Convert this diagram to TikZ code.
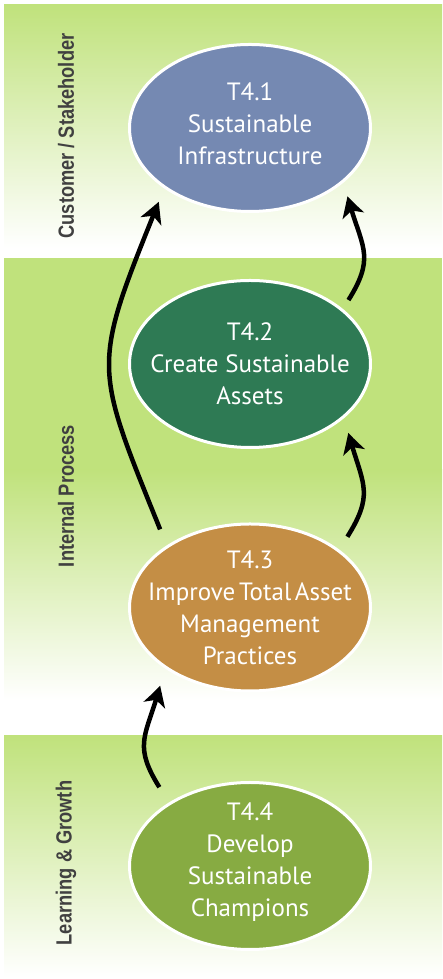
\documentclass[tikz,border=0pt]{standalone}
\usepackage{fontspec}
\usepackage{tikz}
\usetikzlibrary{shapes}
\usetikzlibrary{arrows.meta,bending}
\newfontfamily\goalfont{PT Sans}
\newfontfamily\sidefont[FakeStretch=0.83]{Liberation Sans}
\definecolor{bandgreen}{RGB}{192,226,124}
\definecolor{goalblue}{RGB}{117,137,178}
\definecolor{goaldark}{RGB}{46,122,84}
\definecolor{goalbrown}{RGB}{196,142,69}
\definecolor{goalgreen}{RGB}{135,171,66}
\definecolor{sidegray}{RGB}{64,64,64}
\newcommand{\fadeband}[2]{\shade[top color=bandgreen,bottom color=white] (4,#1) rectangle (442,#2);}

\begin{document}
\begin{tikzpicture}[x=1pt,y=1pt,
        goal/.style={ellipse,draw=white,line width=3pt,minimum width=241pt,minimum height=167pt,inner sep=0pt},
        goaltext/.style={text=white,align=center,font=\goalfont\fontsize{25}{32}\selectfont},
        side/.style={rotate=90,text=sidegray,font=\sidefont\bfseries\fontsize{22}{24}\selectfont},
        link/.style={line width=4.5pt,-{Stealth[length=21pt,width=22pt,inset=6pt,bend]}}]
        \useasboundingbox (0,0) rectangle (442,979);
        %bands
        \fadeband{974}{731}
        \fill[bandgreen] (4,721) rectangle (442,509);
        \fadeband{509}{279}
        \fadeband{243}{2}
        \node[side] (s1) at (66,843) {Customer / Stakeholder};
        \node[side] (s2) at (66,483) {Internal Process};
        \node[side] (s3) at (66,116) {Learning \& Growth};
        %goals
        \node[goal,fill=goalblue] (e1) at (250,851) {};
        \node[goal,fill=goaldark] (e2) at (250,615) {};
        \node[goal,fill=goalbrown] (e3) at (250,371.5) {};
        \node[goal,fill=goalgreen] (e4) at (250,113) {};
        \node[goaltext] (t1) at ([yshift=4pt]e1) {T4.1\\Sustainable\\Infrastructure};
        \node[goaltext] (t2) at (e2) {T4.2\\Create Sustainable\\Assets};
        \node[goaltext] (t3) at (e3) {T4.3\\Improve\hspace{-3pt} Total\hspace{-3pt} Asset\\Management\\Practices};
        \node[goaltext] (t4) at ([yshift=4pt]e4) {T4.4\\Develop\\Sustainable\\Champions};
        %links
        \draw[link] ([shift={(139:18pt)}]e3.139) to[out=112,in=248,looseness=1.4] ([shift={(219:15pt)}]e1.219);
        \draw[link] ([shift={(33:11pt)}]e2.33) to[out=58,in=285,looseness=1.3] ([shift={(325:14pt)}]e1.325);
        \draw[link] ([shift={(36:16pt)}]e3.36) to[out=58,in=285,looseness=1.3] ([shift={(325:15pt)}]e2.325);
        \draw[link] ([shift={(139:19pt)}]e4.139) to[out=122,in=255,looseness=1.3] ([shift={(221:18pt)}]e3.221);
    \end{tikzpicture}
\end{document}
